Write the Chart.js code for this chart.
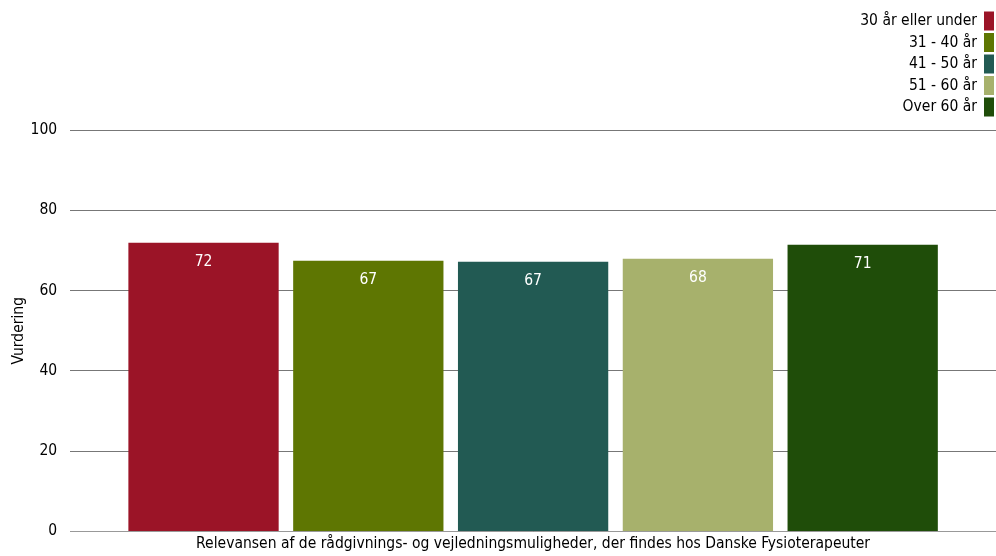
<!DOCTYPE html>
<html lang="da">
<head>
  <meta charset="UTF-8">
  <title>Vurdering</title>
  <script src="https://cdn.jsdelivr.net/npm/chart.js"></script>
  <style>
    body { margin: 0; background: #fff; }
  </style>
</head>
<body>
  <canvas id="graf" width="996" height="556"></canvas>

  <script>
    const kategorier = ['Relevansen af de rådgivnings- og vejledningsmuligheder, der findes hos Danske Fysioterapeuter'];
    const grupper = ['30 år eller under', '31 - 40 år', '41 - 50 år', '51 - 60 år', 'Over 60 år'];
    const vaerdier = [71.9, 67.4, 67.2, 67.9, 71.4];
    const farver = ['#9b1427', '#5e7602', '#225a53', '#a7b16c', '#1f4d09'];
    const yTicks = [0, 20, 40, 60, 80, 100];

    const skrift = 'DejaVu Sans Condensed';
    Chart.defaults.font.family = skrift;
    Chart.defaults.font.size = 15.5;
    Chart.defaults.color = '#000';

    // tal inde i søjlerne
    const tekstPlugin = {
      id: 'tekst',
      afterDatasetsDraw(chart) {
        const ctx = chart.ctx;
        ctx.save();
        ctx.fillStyle = '#fff';
        ctx.font = '15.5px "' + skrift + '"';
        ctx.textAlign = 'center';
        ctx.textBaseline = 'middle';
        chart.data.datasets.forEach((ds, i) => {
          chart.getDatasetMeta(i).data.forEach((bar, j) => {
            ctx.fillText(Math.round(ds.data[j]), bar.x, bar.y + 19);
          });
        });
        ctx.restore();
      }
    };

    // forklaring oppe til højre, boks til højre for teksten
    const forklaring = {
      id: 'forklaring',
      afterDraw(chart) {
        const ctx = chart.ctx;
        ctx.save();
        ctx.font = '15.5px "' + skrift + '"';
        ctx.textAlign = 'right';
        ctx.textBaseline = 'middle';
        chart.data.datasets.forEach((ds, i) => {
          const y = 21 + i * 21.5;
          ctx.fillStyle = ds.backgroundColor;
          ctx.fillRect(984, y - 9.5, 10, 19);
          ctx.fillStyle = '#000';
          ctx.fillText(ds.label, 977, y);
        });
        ctx.restore();
      }
    };

    new Chart(document.getElementById('graf'), {
      type: 'bar',
      data: {
        labels: kategorier,
        datasets: grupper.map((g, i) => ({
          label: g,
          data: [vaerdier[i]],
          backgroundColor: farver[i],
          categoryPercentage: 0.89,
          barPercentage: 0.912
        }))
      },
      options: {
        responsive: false,
        animation: false,
        layout: { padding: { top: 130, right: -5, left: 10, bottom: 0 } },
        plugins: {
          legend: { display: false },
          tooltip: { enabled: false }
        },
        scales: {
          x: {
            grid: { display: false, drawTicks: false },
            border: { color: '#999', width: 1 },
            ticks: { padding: 3 }
          },
          y: {
            min: 0,
            max: 100,
            afterBuildTicks(axis) { axis.ticks = yTicks.map(v => ({ value: v })); },
            afterFit(axis) { axis.width -= 11; },
            grid: { color: '#777', drawTicks: false },
            border: { display: false },
            ticks: { padding: 13 },
            title: { display: true, text: 'Vurdering', padding: 0 }
          }
        }
      },
      plugins: [tekstPlugin, forklaring]
    });
  </script>
</body>
</html>
